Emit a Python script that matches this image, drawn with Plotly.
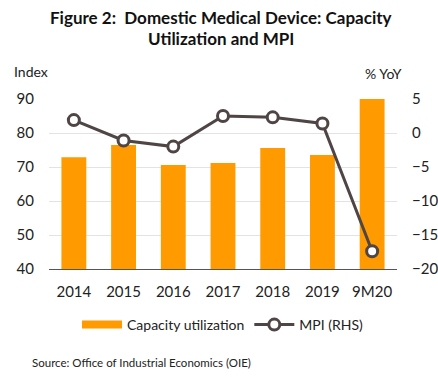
import plotly.graph_objects as go

categories = ["2014", "2015", "2016", "2017", "2018", "2019", "9M20"]
capacity_utilization = [72.9, 76.5, 70.6, 71.2, 75.6, 73.5, 90.0]
mpi_yoy = [1.9, -1.1, -2.0, 2.5, 2.3, 1.4, -17.4]
left_ticks = [40, 50, 60, 70, 80, 90]
right_ticks = [-20, -15, -10, -5, 0, 5]

FONT = "Lato, Calibri, 'Open Sans', sans-serif"
ORANGE = "#FF9A00"
DARK = "#4F4545"

W, H = 438, 377
ML, MR, MT, MB = 49, 41, 99, 108
pw = W - ML - MR
ph = H - MT - MB

def px(x):
    return (x - ML) / pw

def py(y):
    return (H - MB - y) / ph

fig = go.Figure()
fig.add_trace(go.Bar(
    x=categories, y=capacity_utilization, name="Capacity utilization",
    marker=dict(color=ORANGE, line=dict(width=0)), yaxis="y", showlegend=False,
))
# legend-only entry showing a wide orange bar swatch
fig.add_trace(go.Scatter(
    x=[None], y=[None], name="Capacity utilization", mode="lines",
    line=dict(color=ORANGE, width=8), yaxis="y",
))
fig.add_trace(go.Scatter(
    x=categories, y=mpi_yoy, name="MPI (RHS)", mode="lines+markers",
    line=dict(color=DARK, width=3),
    marker=dict(size=11, color="white", line=dict(color=DARK, width=3)),
    yaxis="y2",
))

fig.update_layout(
    width=W, height=H,
    margin=dict(l=ML, r=MR, t=MT, b=MB, autoexpand=False),
    paper_bgcolor="white", plot_bgcolor="white",
    font=dict(family=FONT, size=15, color="#222222"),
    bargap=0.5,
    showlegend=True,
    legend=dict(orientation="h", x=0.5, xanchor="center", y=py(325), yanchor="middle",
                font=dict(size=14, color="#222222"), traceorder="normal",
                itemwidth=40, bgcolor="rgba(0,0,0,0)"),
    xaxis=dict(type="category", showgrid=False, showline=True, linecolor="#555555", linewidth=1,
               ticks="", tickfont=dict(size=15), ticklabelstandoff=9),
    yaxis=dict(range=[40, 90], tickvals=left_ticks, showgrid=True, gridcolor="#E3E3E3",
               gridwidth=1, zeroline=False, showline=False, ticks="", tickfont=dict(size=15),
               ticklabelstandoff=14),
    yaxis2=dict(range=[-20, 5], tickvals=right_ticks, overlaying="y", side="right",
                showgrid=False, zeroline=False, showline=False, ticks="", tickfont=dict(size=15),
                ticklabelstandoff=14),
)

fig.add_annotation(text="<b>Figure 2:  Domestic Medical Device: Capacity</b>", x=px(221), y=py(18),
                   xref="paper", yref="paper", xanchor="center", yanchor="middle",
                   showarrow=False, font=dict(size=17, color="#111111"))
fig.add_annotation(text="<b>Utilization and MPI</b>", x=px(221), y=py(39),
                   xref="paper", yref="paper", xanchor="center", yanchor="middle",
                   showarrow=False, font=dict(size=17, color="#111111"))
fig.add_annotation(text="Index", x=px(12), y=py(72), xref="paper", yref="paper",
                   xanchor="left", yanchor="middle", showarrow=False, font=dict(size=14))
fig.add_annotation(text="% YoY", x=px(404), y=py(73), xref="paper", yref="paper",
                   xanchor="right", yanchor="middle", showarrow=False, font=dict(size=14))
fig.add_annotation(text="Source: Office of Industrial Economics (OIE)", x=px(30), y=py(362),
                   xref="paper", yref="paper", xanchor="left", yanchor="middle",
                   showarrow=False, font=dict(size=11.5))

fig.write_html(
    "out.html",
    config={"displayModeBar": False},
    post_script="document.body.style.margin='0';document.body.style.overflow='hidden';",
)
